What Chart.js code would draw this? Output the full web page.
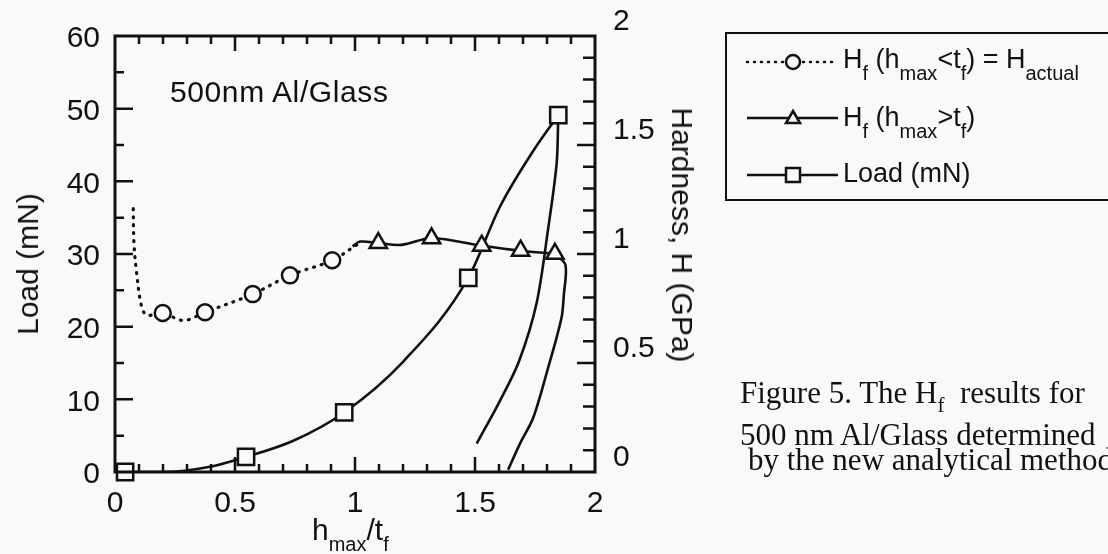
<!DOCTYPE html>
<html>
<head>
<meta charset="utf-8">
<script src="https://cdn.jsdelivr.net/npm/chart.js@4.4.0/dist/chart.umd.min.js"></script>
<style>
  html, body { margin: 0; padding: 0; background: #f9f9f9; }
  #wrap { position: relative; width: 1108px; height: 554px; overflow: hidden; }
  canvas { position: absolute; left: 0; top: 0; }
  .t { position: absolute; white-space: nowrap; color: #111; font-family: "Liberation Sans", Arial, sans-serif; font-size: 30px; line-height: 30px; }
  .sb { font-size: 20px; position: relative; top: 11px; }
  .lg { font-size: 27px; line-height: 27px; }
  .lg .sb { font-size: 20px; top: 12px; }
  .cap { position: absolute; white-space: nowrap; color: #111; font-family: "Liberation Serif", "Times New Roman", serif; font-size: 31px; line-height: 31px; }
  .cap .sb { font-size: 21px; top: 9px; }
  #box { position: absolute; left: 725px; top: 32px; width: 400px; height: 165px; border: 2px solid #111; }
</style>
</head>
<body>
<div id="wrap">
  <canvas id="chart" width="1108" height="554"></canvas>
  <div class="t" style="left:170px; top:77px; letter-spacing:0.6px;">500nm Al/Glass</div>
  <div class="t" style="left:312px; top:515px;">h<span class="sb">max</span>/t<span class="sb">f</span></div>
  <div class="t" style="left:28px; top:264px; transform:translate(-50%,-50%) rotate(-90deg);">Load (mN)</div>
  <div class="t" style="left:682px; top:235px; transform:translate(-50%,-50%) rotate(90deg);">Hardness, H (GPa)</div>
  <div id="box"></div>
  <div class="t lg" style="left:843px; top:46px;">H<span class="sb">f</span> (h<span class="sb">max</span>&lt;t<span class="sb">f</span>) = H<span class="sb">actual</span></div>
  <div class="t lg" style="left:843px; top:104px;">H<span class="sb">f</span> (h<span class="sb">max</span>&gt;t<span class="sb">f</span>)</div>
  <div class="t lg" style="left:843px; top:160px;">Load (mN)</div>
  <div class="cap" style="left:740px; top:377px;">Figure 5. The H<span class="sb">f</span>&nbsp; results for</div>
  <div class="cap" style="left:740px; top:419px;">500 nm Al/Glass determined</div>
  <div class="cap" style="left:748px; top:444px;">by the new analytical method</div>
</div>
<script>
// tick labels
const xTicks = [0, 0.5, 1, 1.5, 2];
const loadTicks = [0, 10, 20, 30, 40, 50, 60];
const hardTicks = [0, 0.5, 1, 1.5, 2];

// H_f (h_max < t_f) - dotted curve and circle markers (right axis, GPa)
const hLowX = [0.076, 0.079, 0.09, 0.11, 0.132, 0.199, 0.285, 0.375, 0.574, 0.729, 0.905, 1.007];
const hLowY = [1.208, 1.05, 0.914, 0.763, 0.72, 0.729, 0.695, 0.733, 0.816, 0.902, 0.971, 1.042];
const hLowMarkX = [0.199, 0.375, 0.574, 0.729, 0.905];
const hLowMarkY = [0.729, 0.733, 0.816, 0.902, 0.971];

// H_f (h_max > t_f) - solid curve and triangle markers
const hHighX = [0.99, 1.021, 1.097, 1.194, 1.319, 1.528, 1.69, 1.833];
const hHighY = [1.035, 1.057, 1.05, 1.042, 1.072, 1.038, 1.015, 1.001];
const hHighMarkX = [1.097, 1.319, 1.528, 1.69, 1.833];
const hHighMarkY = [1.05, 1.072, 1.038, 1.015, 1.001];

// loading curve and square markers (left axis, mN)
const loadX = [0.042, 0.2, 0.396, 0.546, 0.743, 0.955, 1.201, 1.472, 1.604, 1.743, 1.847];
const loadY = [0, 0, 0.72, 2.08, 4.3, 8.19, 15.2, 26.7, 36.5, 44.2, 49.1];
const loadMarkX = [0.042, 0.546, 0.955, 1.472, 1.847];
const loadMarkY = [0, 2.08, 8.19, 26.7, 49.1];

// unloading curves
const unloadAX = [1.847, 1.840, 1.804, 1.757, 1.683, 1.604, 1.507];
const unloadAY = [49.1, 42.4, 33.3, 23.3, 15.2, 9.8, 3.9];
const unloadBX = [1.833, 1.877, 1.870, 1.862, 1.84, 1.812, 1.743, 1.6875, 1.638];
const unloadBY = [30.0, 28.5, 24.3, 21.5, 18.5, 15.2, 7.5, 3.9, 0.3];

const ink = '#111';
const bg = '#f9f9f9';
const pts = (xs, ys) => xs.map((x, i) => ({x: x, y: ys[i]}));

Chart.defaults.font.family = '"Liberation Sans", Arial, sans-serif';
Chart.defaults.color = ink;

const frameTicks = {
  id: 'frameTicks',
  afterDraw(chart) {
    const {ctx, chartArea: a, scales} = chart;
    ctx.save();
    ctx.strokeStyle = ink;
    ctx.lineWidth = 2.5;
    ctx.beginPath();
    for (let i = 1; i < 20; i++) {
      const px = scales.x.getPixelForValue(i / 10);
      const len = i % 5 === 0 ? 15 : 8;
      ctx.moveTo(px, a.bottom); ctx.lineTo(px, a.bottom - len);
      ctx.moveTo(px, a.top); ctx.lineTo(px, a.top + len);
    }
    for (let v = 5; v < 60; v += 5) {
      const py = scales.y.getPixelForValue(v);
      ctx.moveTo(a.left, py); ctx.lineTo(a.left + (v % 10 === 0 ? 18 : 9), py);
    }
    for (let i = 1; i < 20; i++) {
      const py = scales.y2.getPixelForValue(i / 10);
      ctx.moveTo(a.right, py); ctx.lineTo(a.right - (i % 5 === 0 ? 18 : 12), py);
    }
    ctx.stroke();
    ctx.lineWidth = 3;
    ctx.strokeRect(a.left, a.top, a.right - a.left, a.bottom - a.top);

    // legend samples
    ctx.lineWidth = 2.5;
    ctx.setLineDash([1, 6]);
    ctx.lineCap = 'round';
    ctx.beginPath(); ctx.moveTo(747, 62); ctx.lineTo(838, 62); ctx.stroke();
    ctx.setLineDash([]);
    ctx.lineCap = 'butt';
    ctx.beginPath();
    ctx.moveTo(747, 118); ctx.lineTo(838, 118);
    ctx.moveTo(747, 175); ctx.lineTo(838, 175);
    ctx.stroke();
    ctx.fillStyle = bg;
    ctx.beginPath(); ctx.arc(793, 62, 7, 0, Math.PI * 2); ctx.fill(); ctx.stroke();
    ctx.beginPath(); ctx.moveTo(793, 111); ctx.lineTo(800, 123); ctx.lineTo(786, 123); ctx.closePath(); ctx.fill(); ctx.stroke();
    ctx.beginPath(); ctx.rect(786, 168, 14, 14); ctx.fill(); ctx.stroke();
    ctx.restore();
  }
};

const tickFont = {size: 30};
const plain = v => String(v);

new Chart(document.getElementById('chart'), {
  type: 'scatter',
  data: {
    datasets: [
      {data: pts(hLowMarkX, hLowMarkY), yAxisID: 'y2', showLine: false, pointStyle: 'circle', pointRadius: 8,
       pointBorderWidth: 2.5, pointBackgroundColor: bg, pointBorderColor: ink, clip: false, order: 0},
      {data: pts(hHighMarkX, hHighMarkY), yAxisID: 'y2', showLine: false, pointStyle: 'triangle', pointRadius: 10,
       pointBorderWidth: 2.5, pointBackgroundColor: bg, pointBorderColor: ink, clip: false, order: 0},
      {data: pts(loadMarkX, loadMarkY), yAxisID: 'y', showLine: false, pointStyle: 'rect', pointRadius: 11.5,
       pointBorderWidth: 2.5, pointBackgroundColor: bg, pointBorderColor: ink, clip: false, order: 0},
      {data: pts(hLowX, hLowY), yAxisID: 'y2', showLine: true, borderColor: ink, borderWidth: 3.2,
       borderDash: [1, 7], borderCapStyle: 'round', pointRadius: 0, tension: 0.35, order: 1},
      {data: pts(hHighX, hHighY), yAxisID: 'y2', showLine: true, borderColor: ink, borderWidth: 2.6,
       pointRadius: 0, tension: 0.35, order: 1},
      {data: pts(loadX, loadY), yAxisID: 'y', showLine: true, borderColor: ink, borderWidth: 2.6,
       pointRadius: 0, cubicInterpolationMode: 'monotone', order: 1},
      {data: pts(unloadAX, unloadAY), yAxisID: 'y', showLine: true, borderColor: ink, borderWidth: 2.6,
       pointRadius: 0, tension: 0.3, order: 1},
      {data: pts(unloadBX, unloadBY), yAxisID: 'y', showLine: true, borderColor: ink, borderWidth: 2.6,
       pointRadius: 0, tension: 0.3, order: 1}
    ]
  },
  options: {
    responsive: false,
    animation: false,
    events: [],
    layout: {padding: {top: 30, left: 0, right: 0, bottom: 0}},
    plugins: {legend: {display: false}, tooltip: {enabled: false}},
    scales: {
      x: {
        type: 'linear', min: 0, max: 2,
        grid: {display: false, drawTicks: false}, border: {display: false},
        ticks: {font: tickFont, color: ink, padding: 14, autoSkip: false, maxRotation: 0, callback: plain},
        afterBuildTicks: s => { s.ticks = xTicks.map(v => ({value: v})); },
        afterFit: s => { s.height = 82; }
      },
      y: {
        position: 'left', min: 0, max: 60,
        grid: {display: false, drawTicks: false}, border: {display: false},
        ticks: {font: tickFont, color: ink, padding: 15, labelOffset: 3, callback: plain},
        afterBuildTicks: s => { s.ticks = loadTicks.map(v => ({value: v})); },
        afterFit: s => { s.width = 115; }
      },
      y2: {
        position: 'right', min: 0, max: 2,
        grid: {display: false, drawTicks: false}, border: {display: false},
        ticks: {font: tickFont, color: ink, padding: 18, labelOffset: -14, callback: plain},
        afterBuildTicks: s => { s.ticks = hardTicks.map(v => ({value: v})); },
        afterFit: s => { s.width = 513; }
      }
    }
  },
  plugins: [frameTicks]
});
</script>
</body>
</html>
